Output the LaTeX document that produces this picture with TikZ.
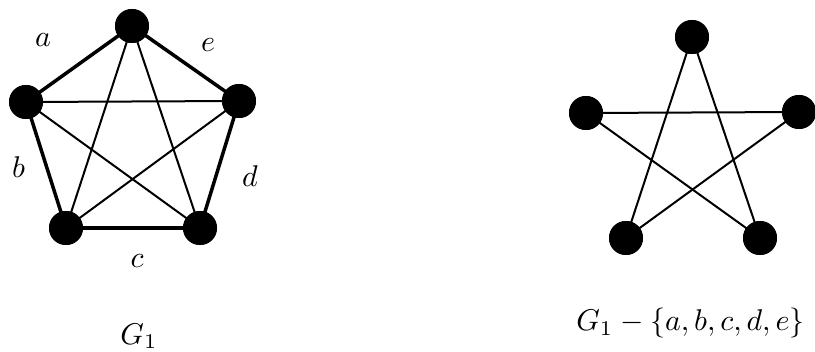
\documentclass[tikz,border=0pt]{standalone}
\begin{document}
\begin{tikzpicture}[x=1pt,y=-1pt,
  vtx/.style={circle,fill=black,inner sep=0pt,minimum size=34pt},
  outer/.style={line width=3.5pt},
  inner/.style={line width=2pt},
  lbl/.style={inner sep=0pt,scale=3,anchor=base}]
\useasboundingbox (0,0) rectangle (815,352);
% left graph
\node[vtx] (t) at (132,26) {};
\node[vtx] (l) at (26,102) {};
\node[vtx] (r) at (239,101) {};
\node[vtx] (bl) at (66,228) {};
\node[vtx] (br) at (200,228) {};
\draw[outer] (t.center) -- (l.center);
\draw[outer] (t.center) -- (r.center);
\draw[outer] (l.center) -- (bl.center);
\draw[outer] (r.center) -- (br.center);
\draw[outer] (bl.center) -- (br.center);
\draw[inner] (t.center) -- (bl.center);
\draw[inner] (t.center) -- (br.center);
\draw[inner] (l.center) -- (r.center);
\draw[inner] (l.center) -- (br.center);
\draw[inner] (r.center) -- (bl.center);
\node[lbl] (la) at (43,47) {$a$};
\node[lbl] (le) at (208,52) {$e$};
\node[lbl] (lb) at (18.5,178) {$b$};
\node[lbl] (ld) at (250,187) {$d$};
\node[lbl] (lc) at (137,268) {$c$};
\node[lbl] (g1) at (139,344.5) {$G_1$};
% right graph
\node[vtx] (t2) at (692,37) {};
\node[vtx] (l2) at (586,113) {};
\node[vtx] (r2) at (799,112) {};
\node[vtx] (bl2) at (626,238) {};
\node[vtx] (br2) at (760,238) {};
\draw[inner] (t2.center) -- (bl2.center);
\draw[inner] (t2.center) -- (br2.center);
\draw[inner] (l2.center) -- (r2.center);
\draw[inner] (l2.center) -- (br2.center);
\draw[inner] (r2.center) -- (bl2.center);
\node[lbl] (g2) at (690.5,331) {$G_1-\{a,b,c,d,e\}$};
% redraw vertices on top
\foreach \n/\p in {t/{132,26},l/{26,102},r/{239,101},bl/{66,228},br/{200,228},t2/{692,37},l2/{586,113},r2/{799,112},bl2/{626,238},br2/{760,238}}
  \fill (\p) circle (17pt);
\end{tikzpicture}
\end{document}
